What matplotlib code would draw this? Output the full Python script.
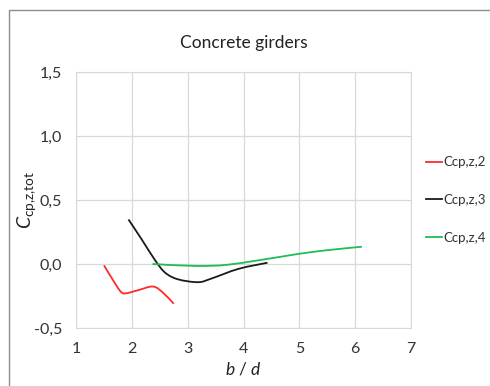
import numpy as np
import matplotlib
matplotlib.use('Agg')
import matplotlib.pyplot as plt
from matplotlib.path import Path
from matplotlib.patches import PathPatch, Rectangle
from matplotlib.lines import Line2D

plt.rcParams['font.family'] = ['Lato', 'DejaVu Sans']
plt.rcParams['mathtext.fontset'] = 'custom'
plt.rcParams['mathtext.rm'] = 'Lato'
plt.rcParams['mathtext.it'] = 'Lato:italic'

# values
x2 = [1.50, 1.64, 1.79, 1.88, 2.11, 2.38, 2.56, 2.75]
y2 = [-0.01, -0.11, -0.21, -0.23, -0.205, -0.176, -0.225, -0.31]

x3 = [1.94, 2.18, 2.42, 2.60, 2.83, 3.19, 3.43, 3.91, 4.43]
y3 = [0.348, 0.19, 0.027, -0.069, -0.12, -0.142, -0.113, -0.038, 0.01]

x4 = [2.37, 3.13, 3.73, 4.66, 5.00, 5.50, 6.12]
y4 = [0.0, -0.015, -0.005, 0.056, 0.080, 0.108, 0.135]

labels = ['Ccp,z,2', 'Ccp,z,3', 'Ccp,z,4']
colors = ['#ff2a2a', '#1a1a1a', '#22bb55']

xticks = [1, 2, 3, 4, 5, 6, 7]
yticks = [-0.5, 0.0, 0.5, 1.0, 1.5]


def smooth_path(xs, ys):
    # excel-like smoothed line: bezier segments through the points
    p = np.column_stack([xs, ys])
    n = len(p)
    verts = [p[0]]
    codes = [Path.MOVETO]
    for i in range(n - 1):
        p0 = p[i - 1] if i > 0 else p[i]
        p3 = p[i + 2] if i + 2 < n else p[i + 1]
        c1 = p[i] + (p[i + 1] - p0) / 6.0
        c2 = p[i + 1] - (p3 - p[i]) / 6.0
        verts += [c1, c2, p[i + 1]]
        codes += [Path.CURVE4] * 3
    return Path(verts, codes)


fig = plt.figure(figsize=(4.9, 3.86), dpi=100)
ax = fig.add_axes([76 / 490, 1 - 328 / 386, (411 - 76) / 490, (328 - 72) / 386])

for xs, ys, c in zip([x2, x3, x4], [y2, y3, y4], colors):
    ax.add_patch(PathPatch(smooth_path(xs, ys), facecolor='none',
                           edgecolor=c, lw=1.3, capstyle='butt'))

ax.set_xlim(1, 7)
ax.set_ylim(-0.5, 1.5)
ax.set_xticks(xticks)
ax.set_yticks(yticks)
ax.set_yticklabels([f'{v:.1f}'.replace('.', ',') for v in yticks])
ax.grid(True, color='#d9d9d9', lw=0.9)
ax.set_axisbelow(True)
for s in ax.spines.values():
    s.set_color('#d9d9d9')
ax.tick_params(length=0, labelsize=11.5, colors='#333333')
ax.tick_params(axis='y', pad=10)
ax.tick_params(axis='x', pad=10)

ax.set_title('Concrete girders', fontsize=12.5, color='#222222', pad=17)
ax.set_xlabel('$b$ / $d$', fontsize=12.5, color='#222222', labelpad=3)
ax.set_ylabel(r'$C_{\mathrm{cp{,}z{,}tot}}$', fontsize=14, color='#222222',
              labelpad=-3)

handles = [Line2D([], [], color=c, lw=1.3) for c in colors]
fig.legend(handles, labels, loc='center left', bbox_to_anchor=(0.869, 0.482),
           frameon=False, fontsize=9.5, handlelength=1.2, handletextpad=0.1,
           labelspacing=1.95, labelcolor='#333333', borderaxespad=0,
           borderpad=0)

fig.patches.append(Rectangle((9 / 490, -0.1), 1.2, 1 - 10 / 386 + 0.1,
                             transform=fig.transFigure, fill=False,
                             edgecolor='#8c8c8c', lw=1.0))

fig.savefig('out.png', dpi=100)
